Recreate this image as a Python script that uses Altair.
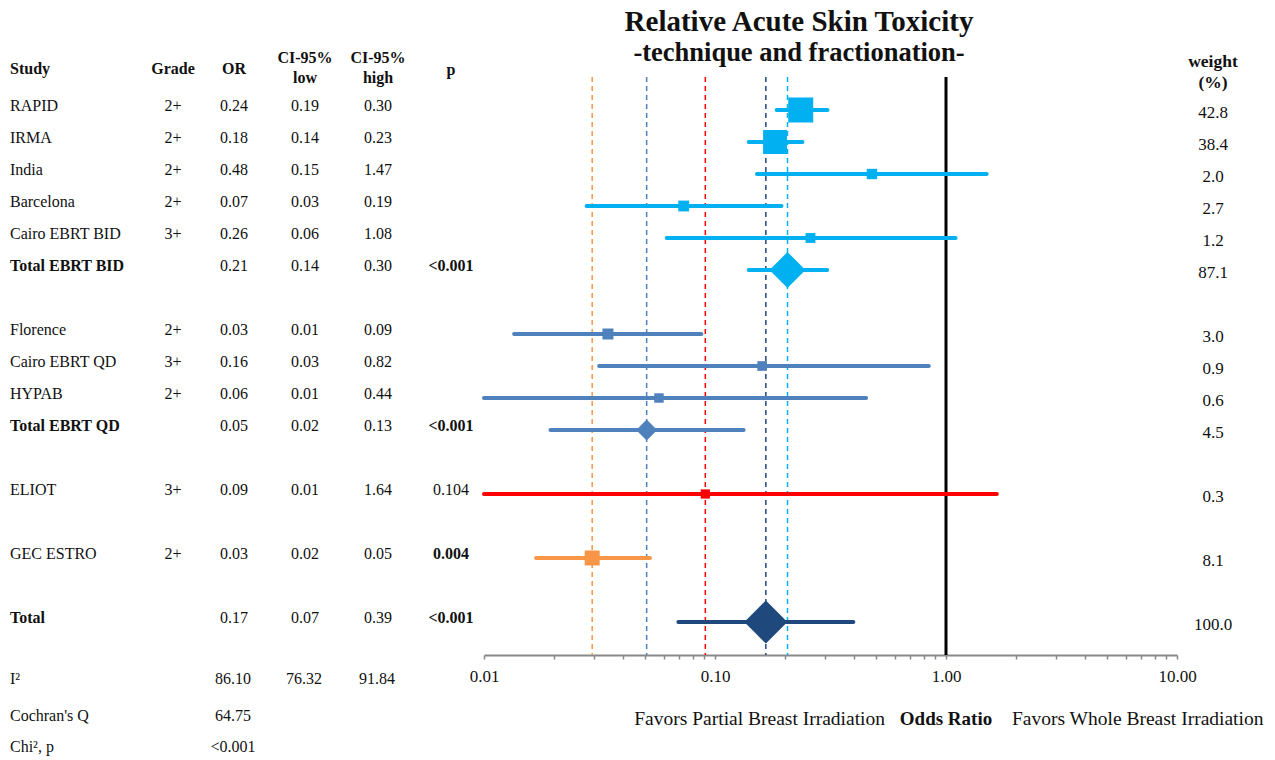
import altair as alt
import pandas as pd

# ---------------- data ----------------
studies = ["RAPID", "IRMA", "India", "Barcelona", "Cairo EBRT BID", "Total EBRT BID",
           "Florence", "Cairo EBRT QD", "HYPAB", "Total EBRT QD",
           "ELIOT", "GEC ESTRO", "Total"]
rows = [0, 1, 2, 3, 4, 5, 7, 8, 9, 10, 12, 14, 16]
grade = ["2+", "2+", "2+", "2+", "3+", "", "2+", "3+", "2+", "", "3+", "2+", ""]
or_txt = ["0.24", "0.18", "0.48", "0.07", "0.26", "0.21", "0.03", "0.16", "0.06", "0.05", "0.09", "0.03", "0.17"]
low_txt = ["0.19", "0.14", "0.15", "0.03", "0.06", "0.14", "0.01", "0.03", "0.01", "0.02", "0.01", "0.02", "0.07"]
high_txt = ["0.30", "0.23", "1.47", "0.19", "1.08", "0.30", "0.09", "0.82", "0.44", "0.13", "1.64", "0.05", "0.39"]
p_txt = ["", "", "", "", "", "<0.001", "", "", "", "<0.001", "0.104", "0.004", "<0.001"]
weight = [42.8, 38.4, 2.0, 2.7, 1.2, 87.1, 3.0, 0.9, 0.6, 4.5, 0.3, 8.1, 100.0]
group = ["BID"] * 6 + ["QD"] * 4 + ["ELIOT", "GEC", "Total"]

# plotted estimates
or_est = [0.235, 0.182, 0.478, 0.0732, 0.259, 0.206, 0.0344, 0.160, 0.0572, 0.0506, 0.0908, 0.0294, 0.166]
low_est = [0.185, 0.140, 0.152, 0.0278, 0.0618, 0.140, 0.0135, 0.0315, 0.0100, 0.0194, 0.0100, 0.0168, 0.0694]
high_est = [0.307, 0.239, 1.50, 0.194, 1.10, 0.306, 0.0873, 0.842, 0.451, 0.133, 1.66, 0.0523, 0.397]

groups = ["BID", "QD", "ELIOT", "GEC", "Total"]
group_colors = ["#00B0F0", "#4F81BD", "#FF0000", "#F79646", "#1F497D"]
pooled_rows = ["Total EBRT BID", "Total EBRT QD", "ELIOT", "GEC ESTRO", "Total"]

stats_labels = ["I\u00b2", "Cochran's Q", "Chi\u00b2, p"]
stats_values = [["86.10", "76.32", "91.84"], ["64.75"], ["<0.001"]]

axis_major = [0.01, 0.1, 1, 10]
axis_ticks = [m * 10 ** e for e in (-2, -1, 0) for m in range(1, 10)] + [10]

title = "Relative Acute Skin Toxicity"
subtitle = "-technique and fractionation-"

# ---------------- layout ----------------
W, H = 693, 578
PAD = {"left": 484, "top": 77, "right": 98, "bottom": 105}
FONT = "Liberation Serif"
TXT = "#111111"
FS = 16

df = pd.DataFrame(dict(study=studies, row=rows, grade=grade, or_txt=or_txt, low_txt=low_txt,
                       high_txt=high_txt, p_txt=p_txt, weight=weight, group=group,
                       or_est=or_est, low_est=low_est, high_est=high_est))
df["total"] = df["study"].str.startswith("Total")
df["pbold"] = df["p_txt"].isin(["<0.001", "0.004"])

xs = alt.Scale(type="log", domain=[0.01, 10])
ys = alt.Scale(domain=[-1.03125, 17.03125], reverse=True)
col = alt.Color("group:N", scale=alt.Scale(domain=groups, range=group_colors), legend=None)

base = alt.Chart(df)

x_axis = alt.Axis(values=axis_ticks, title=None, grid=False,
                  labelExpr="abs(log(datum.value)/log(10) - round(log(datum.value)/log(10))) < 0.001 ? format(datum.value, '.2f') : ''",
                  tickSize=4, tickColor="#888888", tickWidth=1.5,
                  domainColor="#888888", domainWidth=2,
                  labelFont=FONT, labelFontSize=17, labelColor=TXT, labelPadding=9,
                  labelFlush=False, labelOverlap=False)

# dashed pooled lines
dashed = base.transform_filter(
    alt.FieldOneOfPredicate(field="study", oneOf=pooled_rows)
).mark_rule(strokeDash=[5, 4], strokeWidth=1.5).encode(
    x=alt.X("or_est:Q", scale=xs, axis=x_axis),
    y=alt.value(0), y2=alt.value(H), color=col)

one_line = alt.Chart(pd.DataFrame({"v": [1.0]})).mark_rule(color="black", strokeWidth=3).encode(
    x=alt.X("v:Q", scale=xs), y=alt.value(0), y2=alt.value(H))

ci = base.mark_rule(strokeWidth=4, strokeCap="round").encode(
    x=alt.X("low_est:Q", scale=xs), x2="high_est:Q",
    y=alt.Y("row:Q", scale=ys, axis=None), color=col)

squares = base.transform_filter("!datum.total").mark_point(shape="square", filled=True, opacity=1).encode(
    x=alt.X("or_est:Q", scale=xs), y=alt.Y("row:Q", scale=ys),
    color=col,
    size=alt.Size("weight:Q", scale=alt.Scale(domain=[0, 3, 8.1, 42.8], range=[81, 121, 225, 625]), legend=None))

diamonds = base.transform_filter("datum.total").mark_point(shape="diamond", filled=True, opacity=1).encode(
    x=alt.X("or_est:Q", scale=xs), y=alt.Y("row:Q", scale=ys),
    color=col,
    size=alt.Size("weight:Q", scale=alt.Scale(domain=[4.5, 87.1, 100], range=[441, 1296, 1849]), legend=None))

layers = [dashed, one_line, ci, squares, diamonds]

# table columns
def col_text(field, px, align="center", bold_field=None, dy=-4):
    out = []
    for b in ([False, True] if bold_field else [False]):
        c = base
        if bold_field:
            c = c.transform_filter(f"datum.{bold_field}" if b else f"!datum.{bold_field}")
        out.append(c.mark_text(font=FONT, fontSize=FS, align=align, baseline="middle", dy=dy,
                               color=TXT, fontWeight="bold" if b else "normal").encode(
            y=alt.Y("row:Q", scale=ys), x=alt.value(px), text=field))
    return out

layers += col_text("study:N", -474, align="left", bold_field="total")
layers += col_text("grade:N", -311)
layers += col_text("or_txt:N", -250)
layers += col_text("low_txt:N", -179)
layers += col_text("high_txt:N", -106)
layers += col_text("p_txt:N", -33, bold_field="pbold")
layers += [base.mark_text(font=FONT, fontSize=17, align="center", baseline="middle", dy=3, color=TXT).encode(
    y=alt.Y("row:Q", scale=ys), x=alt.value(729), text=alt.Text("weight:Q", format=".1f"))]


def label(t, px, py, size=FS, bold=False, align="center"):
    return alt.Chart(pd.DataFrame({"t": [t]})).mark_text(
        font=FONT, fontSize=size, fontWeight="bold" if bold else "normal", align=align,
        baseline="middle", color=TXT).encode(text="t:N", x=alt.value(px), y=alt.value(py))


headers = [("Study", -474, -8, "left", FS), ("Grade", -311, -8, "center", FS), ("OR", -250, -8, "center", FS),
           ("CI-95%", -179, -19, "center", FS), ("low", -179, 1, "center", FS),
           ("CI-95%", -106, -19, "center", FS), ("high", -106, 1, "center", FS),
           ("p", -33, -7, "center", FS), ("weight", 729, -15, "center", 17.5), ("(%)", 729, 6, "center", 17.5)]
for t, px, py, al, fs in headers:
    layers.append(label(t, px, py, size=fs, bold=True, align=al))

stat_y = [602, 639, 670]
stat_x = [-251, -180, -107]
for lab, vals, py in zip(stats_labels, stats_values, stat_y):
    layers.append(label(lab, -474, py, align="left"))
    for v, px in zip(vals, stat_x):
        layers.append(label(v, px, py))

layers.append(label("Favors Partial Breast Irradiation", 401, 642, size=19.5, align="right"))
layers.append(label("Odds Ratio", 462, 642, size=19, bold=True))
layers.append(label("Favors Whole Breast Irradiation", 528, 642, size=19.5, align="left"))
layers.append(label(title, 315, -55, size=29, bold=True))
layers.append(label(subtitle, 315, -24, size=26.5, bold=True))

chart = alt.layer(*layers).resolve_scale(size="independent").properties(
    width=W, height=H, autosize=alt.AutoSizeParams(type="none"), padding=PAD,
    background="white"
).configure_view(stroke=None)

chart.save("out.html", embed_options={"renderer": "svg", "actions": False})
